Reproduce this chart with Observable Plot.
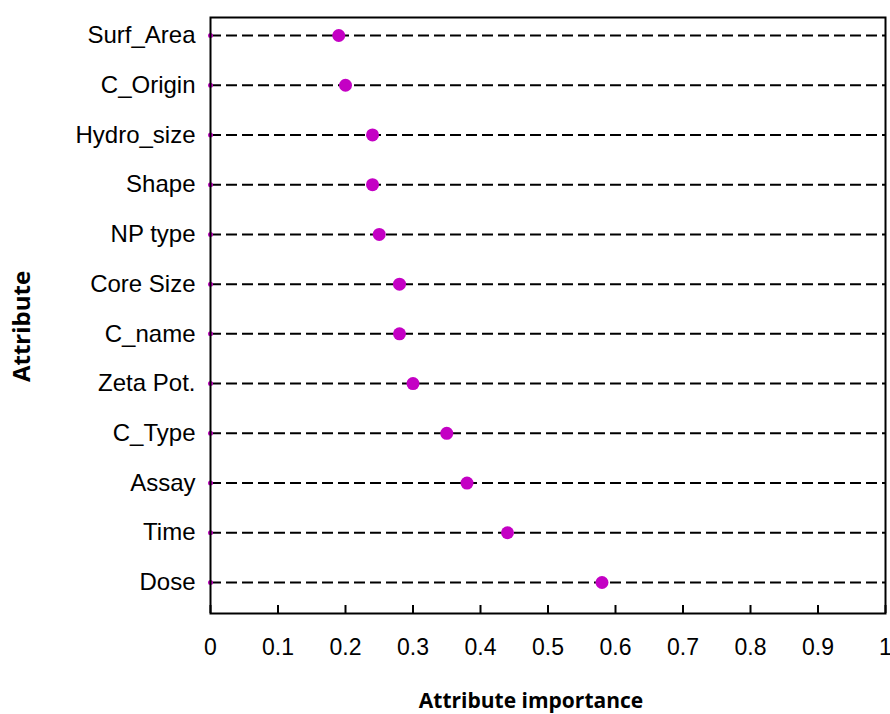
<!DOCTYPE html>
<html>
<head>
<meta charset="utf-8">
<script src="https://cdn.jsdelivr.net/npm/d3@7"></script>
<script src="https://cdn.jsdelivr.net/npm/@observablehq/plot@0.6"></script>
<style>
  html, body { margin: 0; padding: 0; background: white; }
</style>
</head>
<body>
<div id="chart"></div>
<script>
const attributes = ["Surf_Area", "C_Origin", "Hydro_size", "Shape", "NP type", "Core Size", "C_name", "Zeta Pot.", "C_Type", "Assay", "Time", "Dose"];
const importance = [0.19, 0.20, 0.24, 0.24, 0.25, 0.28, 0.28, 0.30, 0.35, 0.38, 0.44, 0.58];
const xTicks = [0, 0.1, 0.2, 0.3, 0.4, 0.5, 0.6, 0.7, 0.8, 0.9, 1];

const data = attributes.map((a, i) => ({attribute: a, value: importance[i]}));

const W = 890, H = 714, MT = 17, MB = 101;
const frameH = H - MT - MB;

const chart = Plot.plot({
  width: W,
  height: H,
  marginLeft: 210,
  marginRight: 5,
  marginTop: MT,
  marginBottom: MB,
  style: {fontFamily: "'Liberation Sans', Arial, sans-serif", fontSize: "24px", background: "white", color: "black", overflow: "visible"},
  x: {domain: [0, 1]},
  y: {type: "point", domain: attributes, range: [35, 582], padding: 0, round: false},
  marks: [
    Plot.ruleY(data, {y: "attribute", x1: 0, x2: 1, stroke: "black", strokeWidth: 2, strokeDasharray: "11,5"}),
    Plot.dot(data, {x: 0, y: "attribute", r: 2.5, fill: "#c400c4"}),
    Plot.dot(data, {x: "value", y: "attribute", r: 6.5, fill: "#c400c4"}),
    Plot.ruleX(xTicks, {x: d => d, insetTop: frameH - 8, stroke: "black", strokeWidth: 2}),
    Plot.axisX({ticks: xTicks, tickSize: 0, tickPadding: 25, fontSize: 23, tickFormat: d => String(d), label: null}),
    Plot.axisY({tickSize: 0, tickPadding: 15, fontSize: 24, label: null}),
    Plot.frame({stroke: "black", strokeWidth: 2}),
    Plot.text(["Attribute"], {frameAnchor: "left", textAnchor: "middle", dx: -188, dy: 11, rotate: -90, fontWeight: "bold", fontSize: 24, fontFamily: "'Open Sans', sans-serif", fill: "black"}),
    Plot.text(["Attribute importance"], {frameAnchor: "bottom", textAnchor: "middle", dx: -17, dy: 94, fontWeight: "bold", fontSize: 21, fontFamily: "'Open Sans', sans-serif", fill: "black"})
  ]
});
document.getElementById("chart").appendChild(chart);
</script>
</body>
</html>
